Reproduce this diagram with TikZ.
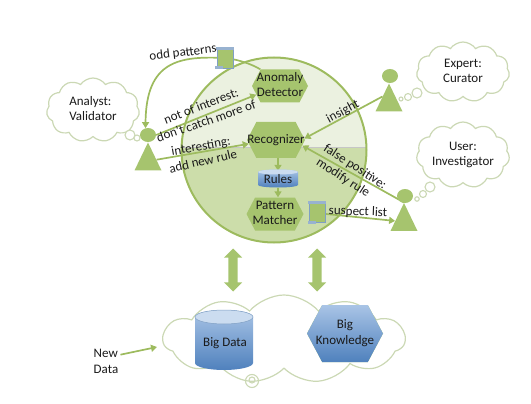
\documentclass[tikz,border=0pt]{standalone}
\usepackage{fontspec}
\setmainfont{Carlito}
\usetikzlibrary{shapes.geometric,shapes.symbols,shapes.arrows,arrows.meta}
\definecolor{gfill}{HTML}{A6C46E}
\definecolor{gline}{HTML}{9DBB5E}
\definecolor{glight}{HTML}{EBF1E0}
\definecolor{gdark}{HTML}{CCDDAA}
\definecolor{cloudline}{HTML}{CBD8B4}
\definecolor{bluetop}{HTML}{A9C4E6}
\definecolor{bluebot}{HTML}{4F81BD}
\definecolor{docline}{HTML}{7F9FC4}
\definecolor{txt}{HTML}{1A1A1A}
\pgfdeclarelayer{bg}
\pgfdeclarelayer{conns}
\pgfsetlayers{bg,conns,main}
\newcommand{\zlab}[1]{\makebox[0pt]{\begin{tabular}{@{}c@{}}#1\end{tabular}}}
\newcommand{\zlabl}[1]{\makebox[0pt]{\begin{tabular}{@{}l@{}}#1\end{tabular}}}
\tikzset{
  lab/.style={font=\fontsize{13}{15.5}\selectfont,text=txt,inner sep=0pt},
  hexa/.style={signal,signal to=east and west,signal pointer angle=125,fill=gfill,inner sep=0pt,
     font=\fontsize{13}{15.5}\selectfont,text=txt},
  person/.style={isosceles triangle,isosceles triangle stretches,shape border rotate=90,fill=gfill,
     minimum width=27pt,minimum height=28pt,inner sep=0pt},
  head/.style={ellipse,fill=gfill,minimum width=16pt,minimum height=14pt,inner sep=0pt},
  thought/.style={cloud,cloud puffs=11,cloud puff arc=110,draw=cloudline,line width=1.2pt,fill=white,
     font=\fontsize{13}{15.5}\selectfont,text=txt,inner sep=0pt},
  bubble/.style={circle,draw=cloudline,line width=1.1pt,fill=white,inner sep=0pt},
  conn/.style={draw=gline,line width=1.7pt,-{Triangle[length=6pt,width=7pt]}},
  scroll/.style={rectangle,fill=gfill,draw=docline,line width=.8pt,minimum width=16pt,minimum height=20pt,inner sep=0pt},
  blockarrow/.style={double arrow,fill=gfill,rotate=90,minimum height=43pt,
     double arrow head extend=4.5pt,inner sep=0pt},
}
\begin{document}
\begin{tikzpicture}[x=1pt,y=-1pt]
\useasboundingbox (0,0) rectangle (531,404);
% hexagons
\node[hexa,minimum width=56pt,minimum height=33pt] (anomaly) at (280,86) {\zlab{Anomaly\\Detector}};
\node[hexa,minimum width=58pt,minimum height=36pt] (recog) at (276,140) {\zlab{Recognizer}};
\node[hexa,minimum width=57pt,minimum height=33pt] (pattern) at (275,214) {\zlab{Pattern\\Matcher}};
% big circle
\begin{pgfonlayer}{bg}
\begin{scope}
  \clip (274,150) circle[radius=92.5pt];
  \fill[glight] (170,50) rectangle (380,147);
  \fill[gdark] (170,147) rectangle (380,250);
  \draw[gray!45,line width=.6pt] (170,147) -- (380,147);
\end{scope}
\node[circle,draw=gline,line width=2pt,minimum size=185pt,inner sep=0pt] (engine) at (274,150) {};
\end{pgfonlayer}
% rules cylinder
\path[top color=bluetop,bottom color=bluebot,draw=none] (258,172) -- (258,185) arc[x radius=20pt,y radius=2.5pt,start angle=180,end angle=360] -- (298,172) arc[x radius=20pt,y radius=2.5pt,start angle=0,end angle=180] -- cycle;
\fill[bluetop!60!white] (278,172) ellipse[x radius=20pt,y radius=2.5pt];
\node[lab,minimum width=40pt,minimum height=17pt] (rules) at (278,179.5) {Rules};
% thought clouds
\node[thought,minimum width=93pt,minimum height=64pt] (analyst) at (93,110) {\zlabl{Analyst:\\Validator}};
\node[thought,minimum width=93pt,minimum height=60pt] (expert) at (463,72) {\zlab{Expert:\\Curator}};
\node[thought,minimum width=93pt,minimum height=66pt] (user) at (463,155) {\zlab{User:\\Investigator}};
\node[bubble,minimum size=10pt] (ab1) at (130,135) {};
\node[bubble,minimum size=6pt] (ab2) at (137,138) {};
\node[bubble,minimum size=10pt] (eb1) at (417,93) {};
\node[bubble,minimum size=7pt] (eb2) at (408,97) {};
\node[bubble,minimum size=4pt] (eb3) at (401,99) {};
\node[bubble,minimum size=10pt] (ub1) at (430,187) {};
\node[bubble,minimum size=7pt] (ub2) at (423,194) {};
\node[bubble,minimum size=4.5pt] (ub3) at (417,199) {};
% people
\node[person] (atri) at (148,162) {};
\node[head] (ahead) at (148,135) {};
\node[person] (etri) at (389,103) {};
\node[head] (ehead) at (390,76) {};
\node[person] (utri) at (404,222.5) {};
\node[head] (uhead) at (405,196) {};
% scrolls
\node[scroll] (oddscroll) at (225,58) {};
\fill[docline!80] (oddscroll.north west) ++(-1,-1) rectangle ++(18,3);
\fill[docline!80] (oddscroll.south west) ++(-1.5,-2) rectangle ++(8,3);
\node[scroll] (suspscroll) at (317.5,212.5) {};
\fill[docline!80] (suspscroll.north west) ++(-1,-1) rectangle ++(18,3);
\fill[docline!80] (suspscroll.south west) ++(-1.5,-2) rectangle ++(8,3);
% connectors
\begin{pgfonlayer}{conns}
\draw[conn] (anomaly.north west) .. controls (250,63) and (235,59) .. (oddscroll.center) .. controls (180,56) and (146,60) .. (ahead.110);
\draw[conn] (ahead.east) -- (anomaly.200);
\draw[conn] (atri.15) -- (recog.188);
\draw[conn] (etri.135) -- (recog.3);
\draw[conn] (utri.north) -- (recog.348);
\draw[conn] (suspscroll.350) -- (utri.170);
\draw[conn] (recog.south -| rules.north) -- (rules.north);
\draw[conn] (rules.south) -- (rules.south |- pattern.north);
\end{pgfonlayer}
% block arrows
\node[blockarrow] (ba1) at (233,270) {\rule{0pt}{9pt}};
\node[blockarrow] (ba2) at (317,270) {\rule{0pt}{9pt}};
% big cloud
\node[thought,cloud puff arc=100,minimum width=242pt,minimum height=88pt,fill=none] (bigcloud) at (284,339) {};
\path[top color=bluetop,bottom color=bluebot] (195,317) -- (195,363) arc[x radius=29pt,y radius=7pt,start angle=180,end angle=360] -- (253,317) arc[x radius=29pt,y radius=7pt,start angle=0,end angle=180] -- cycle;
\fill[bluetop!60!white] (224,317) ellipse[x radius=29pt,y radius=7pt];
\draw[docline,line width=.5pt] (224,317) ellipse[x radius=29pt,y radius=7pt];
\node[lab] (bigdata) at (225,343) {Big Data};
\node[hexa,signal pointer angle=124,top color=bluetop,bottom color=bluebot,minimum width=76pt,minimum height=57pt] (bigknow) at (345,333.5) {\zlab{Big\\Knowledge}};
\node[bubble,minimum size=13pt,fill=none] (curl1) at (252,381) {};
\node[bubble,minimum size=6pt,fill=none] (curl2) at (252,380) {};
% new data
\node[lab,align=left] (newdata) at (106,361.5) {New\\Data};
\coordinate (cloudin) at (157,347);
\draw[conn] (newdata.25) ++(2,-1) -- (cloudin);
% labels
\node[lab,rotate=7] at (183,53) {odd patterns};
\node[lab,rotate=21] at (201,106) {not of interest:};
\node[lab,rotate=19] at (206,121) {don’t catch more of};
\node[lab,rotate=10] at (201,147) {interesting:};
\node[lab,rotate=13] at (203,161) {add new rule};
\node[lab,rotate=28] at (343,112) {insight};
\node[lab,rotate=-33] at (355,167) {false positive:};
\node[lab,rotate=-33] at (343,178) {modify rule};
\node[lab,rotate=-2] at (358,212) {suspect list};
\end{tikzpicture}
\end{document}
